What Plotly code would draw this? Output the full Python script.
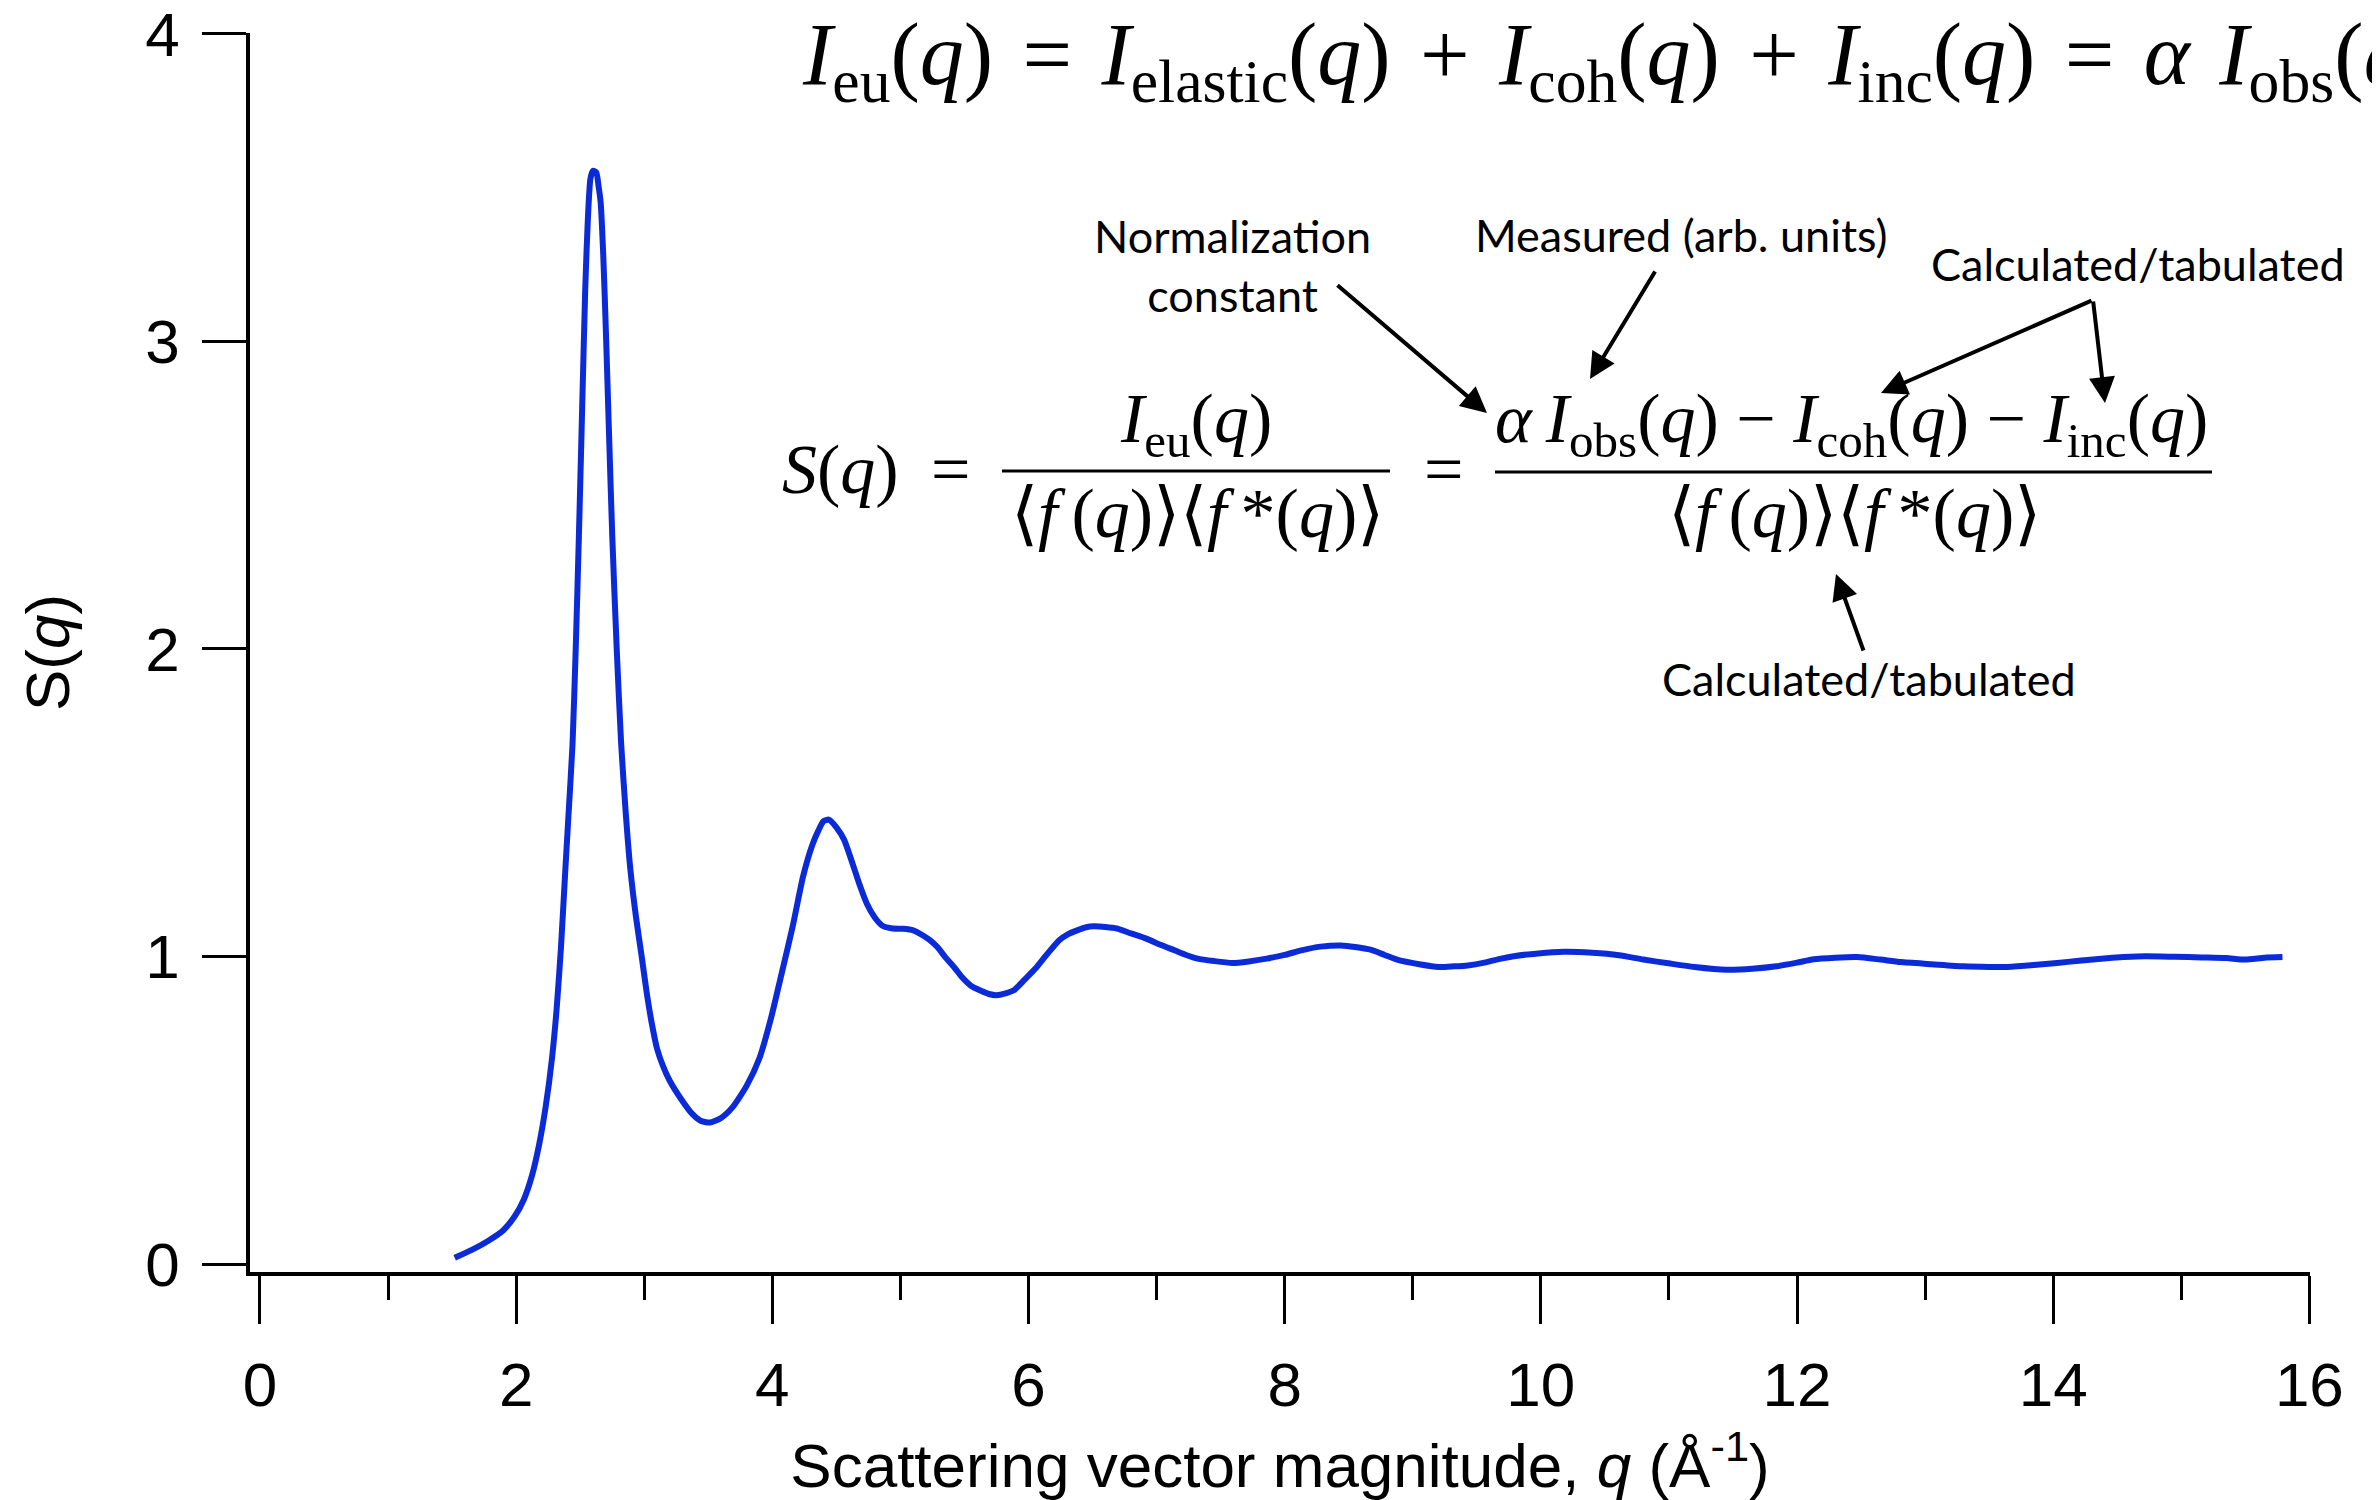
import plotly.graph_objects as go

# ---------------- data ----------------
q_values = [1.52, 1.65, 1.78, 1.90, 1.99, 2.06, 2.125, 2.18, 2.23, 2.28, 2.316, 2.35, 2.385, 2.41,
            2.44, 2.465, 2.49, 2.515, 2.54, 2.56, 2.58, 2.60, 2.625, 2.645, 2.66, 2.68, 2.70, 2.725,
            2.75, 2.785, 2.82, 2.855, 2.89, 2.935, 2.98, 3.02, 3.06, 3.10, 3.15, 3.20, 3.29, 3.375, 3.44,
            3.51, 3.60, 3.69, 3.80, 3.90, 3.99, 4.07, 4.16, 4.24, 4.31, 4.36, 4.40, 4.44, 4.50,
            4.56, 4.62, 4.68, 4.74, 4.80, 4.86, 4.94, 5.02, 5.10, 5.17, 5.23, 5.29, 5.35, 5.42,
            5.48, 5.55, 5.62, 5.69, 5.75, 5.82, 5.885, 5.97, 6.065, 6.15, 6.24, 6.31, 6.38, 6.45,
            6.51, 6.60, 6.69, 6.80, 6.92, 7.03, 7.14, 7.23, 7.32, 7.45, 7.59, 7.72, 7.86, 8.00,
            8.13, 8.28, 8.44, 8.55, 8.67, 8.78, 8.89, 9.05, 9.20, 9.32, 9.43, 9.56, 9.69, 9.79,
            9.98, 10.18, 10.40, 10.61, 10.80, 11.01, 11.20, 11.45, 11.65, 11.84, 12.00, 12.13,
            12.30, 12.47, 12.65, 12.81, 13.05, 13.30, 13.50, 13.64, 13.85, 14.03, 14.20, 14.375,
            14.55, 14.72, 14.95, 15.16, 15.35, 15.50, 15.65, 15.79]
s_values = [0.02, 0.045, 0.075, 0.11, 0.156, 0.21, 0.29, 0.39, 0.51, 0.67, 0.83, 1.03, 1.29, 1.47,
            1.69, 2.00, 2.37, 2.78, 3.18, 3.40, 3.53, 3.555, 3.55, 3.50, 3.45, 3.28, 3.04, 2.70,
            2.37, 2.00, 1.69, 1.47, 1.29, 1.13, 1.00, 0.88, 0.78, 0.70, 0.64, 0.595, 0.535, 0.488, 0.466,
            0.46, 0.475, 0.51, 0.58, 0.67, 0.80, 0.94, 1.10, 1.26, 1.36, 1.41, 1.44, 1.445, 1.42,
            1.38, 1.31, 1.235, 1.17, 1.127, 1.10, 1.091, 1.09, 1.085, 1.07, 1.053, 1.03, 0.998, 0.965,
            0.933, 0.905, 0.890, 0.878, 0.874, 0.880, 0.890, 0.925, 0.966, 1.01, 1.053, 1.073, 1.085, 1.095,
            1.098, 1.096, 1.091, 1.075, 1.058, 1.038, 1.020, 1.005, 0.993, 0.985, 0.979, 0.984, 0.993, 1.005,
            1.020, 1.032, 1.036, 1.031, 1.022, 1.005, 0.988, 0.975, 0.966, 0.968, 0.971, 0.98, 0.993, 1.001,
            1.01, 1.015, 1.012, 1.004, 0.99, 0.977, 0.966, 0.957, 0.96, 0.968, 0.98, 0.991,
            0.996, 0.998, 0.99, 0.982, 0.975, 0.968, 0.966, 0.966, 0.972, 0.979, 0.986, 0.993,
            0.998, 1.001, 0.999, 0.997, 0.995, 0.99, 0.996, 0.998]

x_tick_values = [0, 2, 4, 6, 8, 10, 12, 14, 16]
x_tick_labels = ["0", "2", "4", "6", "8", "10", "12", "14", "16"]
y_tick_values = [0, 1, 2, 3, 4]
y_tick_labels = ["0", "1", "2", "3", "4"]

# ---------------- layout geometry ----------------
# The page body has an 8 px margin, so the figure is 8 px smaller than the window
OFF = 8
W, H = 2380 - OFF, 1500 - OFF
PLOT_X0, PLOT_X1 = 250, 2310      # plot area on screen
PLOT_Y0, PLOT_Y1 = 33, 1272
L, T = PLOT_X0 - OFF, PLOT_Y0 - OFF
R, B = W - (PLOT_X1 - OFF), H - (PLOT_Y1 - OFF)
PW, PH = PLOT_X1 - PLOT_X0, PLOT_Y1 - PLOT_Y0


def px(x):
    return (x - PLOT_X0) / PW


def py(y):
    return (PLOT_Y1 - y) / PH


SANS = "Liberation Sans, Arial, sans-serif"
SERIF = "Liberation Serif, Times New Roman, serif"
LABEL = "Lato, Open Sans, sans-serif"
BLUE = "#0b2bd9"

fig = go.Figure()
fig.add_trace(go.Scatter(
    x=q_values, y=s_values, mode="lines",
    line=dict(color=BLUE, width=6, shape="spline", smoothing=0.6),
    showlegend=False, hoverinfo="x+y",
))

fig.update_layout(
    width=W, height=H,
    margin=dict(l=L, r=R, t=T, b=B, autoexpand=False),
    paper_bgcolor="white", plot_bgcolor="white",
    font=dict(family=SANS, size=62, color="black"),
    showlegend=False,
)

fig.update_xaxes(
    range=[-0.078, 16.005], showgrid=False, zeroline=False,
    showline=True, linecolor="black", linewidth=4,
    tickmode="array", tickvals=x_tick_values, ticktext=x_tick_labels,
    ticks="outside", ticklen=48, tickwidth=3, tickcolor="black",
    minor=dict(dtick=1, ticks="outside", ticklen=24, tickwidth=3, tickcolor="black", showgrid=False),
    tickfont=dict(family=SANS, size=62), ticklabelstandoff=8, ticklabeloverflow="allow",
    title=dict(text="Scattering vector magnitude, <i>q</i> (Å<sup>-1</sup>)",
               font=dict(family=SANS, size=62), standoff=64),
    automargin=False,
)
fig.update_yaxes(
    range=[-0.026, 4.003], showgrid=False, zeroline=False,
    showline=True, linecolor="black", linewidth=3.5,
    tickmode="array", tickvals=y_tick_values, ticktext=y_tick_labels,
    ticks="outside", ticklen=44, tickwidth=3, tickcolor="black",
    tickfont=dict(family=SANS, size=62), ticklabelstandoff=10, ticklabeloverflow="allow",
    title=dict(text="S(<i>q</i>)", font=dict(family=SANS, size=62), standoff=57),
    automargin=False,
)

ann = []
SP = "\u2004"
top_eq = (f"<i>I</i><sub>eu</sub>(<i>q</i>){SP}={SP}<i>I</i><sub>elastic</sub>(<i>q</i>){SP}+{SP}"
          f"<i>I</i><sub>coh</sub>(<i>q</i>){SP}+{SP}<i>I</i><sub>inc</sub>(<i>q</i>){SP}={SP}"
          f"<i>α</i>{SP}<i>I</i><sub>obs</sub>(<i>q</i>)")
ann.append(dict(text=top_eq, x=px(800), y=py(60), xanchor="left", yanchor="middle",
                font=dict(family=SERIF, size=88)))

EQ = 70
ann.append(dict(text="<i>S</i>(<i>q</i>)", x=px(780), y=py(469), xanchor="left", yanchor="middle",
                font=dict(family=SERIF, size=EQ)))
ann.append(dict(text="=", x=px(950), y=py(469), xanchor="center", yanchor="middle",
                font=dict(family=SERIF, size=EQ)))
ann.append(dict(text="=", x=px(1443), y=py(469), xanchor="center", yanchor="middle",
                font=dict(family=SERIF, size=EQ)))
ann.append(dict(text="<i>I</i><sub>eu</sub>(<i>q</i>)", x=px(1196), y=py(424), xanchor="center",
                yanchor="middle", font=dict(family=SERIF, size=EQ)))
denom = "⟨<i>f</i>\u2009(<i>q</i>)⟩⟨<i>f</i>\u2009*(<i>q</i>)⟩"
ann.append(dict(text=denom, x=px(1197), y=py(513), xanchor="center", yanchor="middle",
                font=dict(family=SERIF, size=EQ)))
numer2 = ("<i>α</i>\u2009<i>I</i><sub>obs</sub>(<i>q</i>) − <i>I</i><sub>coh</sub>(<i>q</i>) − "
          "<i>I</i><sub>inc</sub>(<i>q</i>)")
ann.append(dict(text=numer2, x=px(1851), y=py(424), xanchor="center", yanchor="middle",
                font=dict(family=SERIF, size=EQ)))
ann.append(dict(text=denom, x=px(1854), y=py(513), xanchor="center", yanchor="middle",
                font=dict(family=SERIF, size=EQ)))

LF = 45
ann.append(dict(text="Normalization<br>constant", x=px(1232), y=py(266), xanchor="center",
                yanchor="middle", align="center", font=dict(family=LABEL, size=LF)))
ann.append(dict(text="Measured (arb. units)", x=px(1681), y=py(235), xanchor="center",
                yanchor="middle", font=dict(family=LABEL, size=LF)))
ann.append(dict(text="Calculated/tabulated", x=px(2138), y=py(264), xanchor="center",
                yanchor="middle", font=dict(family=LABEL, size=LF)))
ann.append(dict(text="Calculated/tabulated", x=px(1869), y=py(679), xanchor="center",
                yanchor="middle", font=dict(family=LABEL, size=LF)))

arrows = [((1336, 284), (1487, 413)),
          ((1656, 270), (1590, 379)),
          ((2093, 300), (1881, 393)),
          ((2093, 300), (2105, 403)),
          ((1864, 652), (1836, 574))]
for (tx, ty), (hx, hy) in arrows:
    ann.append(dict(text="", x=px(hx), y=py(hy), ax=tx - hx, ay=ty - hy, axref="pixel", ayref="pixel",
                    showarrow=True, arrowhead=2, arrowsize=1.3, arrowwidth=4, arrowcolor="black",
                    standoff=0, startstandoff=0))

for a in ann:
    a.setdefault("xref", "paper")
    a.setdefault("yref", "paper")
    a.setdefault("showarrow", False)
fig.update_layout(annotations=ann)

# fraction bars
fig.add_shape(type="line", xref="paper", yref="paper", x0=px(1002), x1=px(1390), y0=py(471), y1=py(471),
              line=dict(color="black", width=3))
fig.add_shape(type="line", xref="paper", yref="paper", x0=px(1495), x1=px(2212), y0=py(472), y1=py(472),
              line=dict(color="black", width=3))

fig.write_html("out.html")
